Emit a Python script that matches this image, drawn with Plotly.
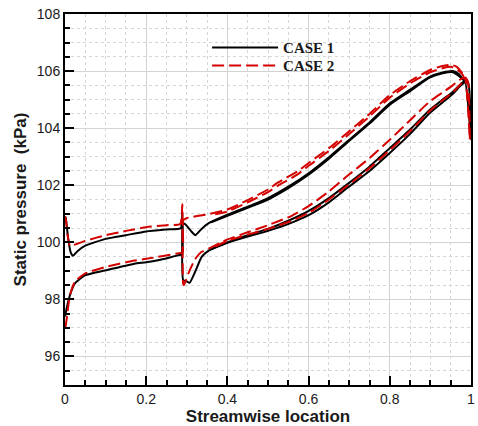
import plotly.graph_objects as go

# Static pressure along the blade surface, one closed path per case/section.
# Path order: upper surface forward part -> shock -> lower surface aft part ->
# trailing edge -> upper surface aft part -> shock -> lower surface forward part.

case1_x = [0.0, 0.002, 0.008, 0.014, 0.02, 0.03, 0.05, 0.1, 0.15, 0.2, 0.25, 0.285, 0.289,
           0.291, 0.3, 0.307, 0.32, 0.337, 0.355, 0.4, 0.45, 0.5, 0.557, 0.6, 0.65, 0.695,
           0.75, 0.8, 0.85, 0.898, 0.93, 0.955, 0.975, 0.985, 1.0, 0.993,
           0.98, 0.97, 0.955, 0.93, 0.898, 0.85, 0.8, 0.75, 0.695, 0.65, 0.6, 0.55, 0.5,
           0.45, 0.4, 0.354, 0.335, 0.321, 0.31, 0.297, 0.291, 0.289,
           0.285, 0.232, 0.2, 0.171, 0.098, 0.049, 0.024, 0.012, 0.004, 0.0]
case1_p = [100.9, 100.85, 100.1, 99.65, 99.53, 99.68, 99.88, 100.12, 100.25, 100.38, 100.45, 100.49, 101.04,
           98.68, 98.63, 98.58, 98.95, 99.5, 99.72, 100.0, 100.25, 100.47, 100.8, 101.1, 101.55, 102.03,
           102.65, 103.3, 103.95, 104.64, 105.0, 105.27, 105.55, 105.65, 103.6, 105.6,
           105.72, 105.9, 106.0, 105.95, 105.8, 105.35, 104.87, 104.2, 103.53, 102.98, 102.42, 101.95, 101.55,
           101.25, 100.97, 100.67, 100.45, 100.25, 100.4, 100.62, 100.68, 99.56,
           99.56, 99.38, 99.3, 99.25, 99.01, 98.84, 98.55, 98.14, 97.68, 97.4]

case2_x = [0.0, 0.002, 0.007, 0.012, 0.02, 0.03, 0.05, 0.1, 0.15, 0.2, 0.25, 0.284, 0.289,
           0.291, 0.293, 0.305, 0.32, 0.335, 0.36, 0.4, 0.45, 0.5, 0.557, 0.6, 0.65, 0.695,
           0.75, 0.8, 0.85, 0.898, 0.93, 0.955, 0.975, 0.985, 0.997, 0.992,
           0.98, 0.965, 0.951, 0.93, 0.898, 0.85, 0.8, 0.75, 0.695, 0.65, 0.6, 0.573, 0.524,
           0.5, 0.45, 0.4, 0.35, 0.3, 0.294, 0.291, 0.29,
           0.285, 0.2, 0.171, 0.098, 0.049, 0.024, 0.012, 0.004, 0.001]
case2_p = [100.9, 100.82, 100.2, 99.88, 99.9, 99.95, 100.05, 100.25, 100.4, 100.53, 100.6, 100.64, 101.33,
           98.55, 98.5, 98.95, 99.4, 99.65, 99.82, 100.1, 100.35, 100.6, 100.92, 101.27, 101.78, 102.32,
           102.95, 103.59, 104.28, 104.93, 105.25, 105.5, 105.72, 105.75, 103.6, 105.65,
           105.9, 106.15, 106.22, 106.18, 106.03, 105.65, 105.16, 104.5, 103.83, 103.3, 102.78, 102.49, 102.09,
           101.85, 101.48, 101.15, 100.98, 100.85, 100.8, 100.78, 99.65,
           99.63, 99.42, 99.36, 99.13, 98.9, 98.61, 98.14, 97.3, 97.0]

# Second section of each case (aft part, where it separates from the first)
case1b_x = [0.36, 0.4, 0.45, 0.5, 0.557, 0.6, 0.65, 0.695, 0.75, 0.8, 0.85, 0.898, 0.93, 0.955, 0.975, 0.985,
            0.976, 0.955, 0.93, 0.898, 0.85, 0.8, 0.75, 0.695, 0.65, 0.6, 0.55, 0.5, 0.45, 0.4, 0.36]
case1b_p = [99.75, 99.98, 100.2, 100.4, 100.68, 100.95, 101.4, 101.9, 102.5, 103.13, 103.8, 104.52, 104.9, 105.2, 105.5, 105.62,
            105.76, 105.96, 105.92, 105.77, 105.3, 104.82, 104.16, 103.49, 102.93, 102.37, 101.9, 101.5, 101.21, 100.93, 100.7]

case2b_x = [0.37, 0.4, 0.45, 0.5, 0.557, 0.6, 0.65, 0.695, 0.75, 0.8, 0.85, 0.898, 0.93, 0.955, 0.975, 0.985,
            0.975, 0.951, 0.93, 0.898, 0.85, 0.8, 0.75, 0.695, 0.65, 0.6, 0.573, 0.524, 0.5, 0.45, 0.4, 0.36]
case2b_p = [99.85, 100.05, 100.27, 100.47, 100.75, 101.03, 101.5, 101.98, 102.6, 103.23, 103.9, 104.6, 104.98, 105.25, 105.55, 105.68,
            105.95, 106.15, 106.1, 105.95, 105.57, 105.07, 104.41, 103.73, 103.2, 102.68, 102.38, 101.98, 101.76, 101.4, 101.08, 100.95]

BLACK = "#000000"
RED = "#d40000"
DASH = "12px,5px"
SMOOTH = 0.5

fig = go.Figure()

fig.add_trace(go.Scatter(x=case1_x, y=case1_p, mode="lines", name="CASE 1", legend="legend",
                         line=dict(color=BLACK, width=2, shape="spline", smoothing=SMOOTH)))
fig.add_trace(go.Scatter(x=case1b_x, y=case1b_p, mode="lines", name="CASE 1", showlegend=False,
                         line=dict(color=BLACK, width=2, shape="spline", smoothing=SMOOTH)))
fig.add_trace(go.Scatter(x=case2_x, y=case2_p, mode="lines", name="CASE 2", legend="legend2",
                         line=dict(color=RED, width=2, dash=DASH, shape="spline", smoothing=SMOOTH)))
fig.add_trace(go.Scatter(x=case2b_x, y=case2b_p, mode="lines", name="CASE 2", showlegend=False,
                         line=dict(color=RED, width=2, dash=DASH, shape="spline", smoothing=SMOOTH)))

axis_common = dict(
    showline=True, linecolor="black", linewidth=2, mirror=True,
    ticks="inside", ticklen=9, tickwidth=2, tickcolor="black",
    showgrid=True, gridcolor="#d3d3d3", gridwidth=1,
    zeroline=False,
    tickfont=dict(family="Liberation Sans, Arial, sans-serif", size=14, color="#1a1a1a"),
)

fig.update_xaxes(
    **axis_common,
    range=[0, 1], dtick=0.2, tick0=0,
    minor=dict(dtick=0.05, ticks="inside", ticklen=5, tickwidth=1.5, tickcolor="black",
               showgrid=True, gridcolor="#d6d6d6", griddash="dot", gridwidth=1),
    title=dict(text="Streamwise location", standoff=4,
               font=dict(family="Liberation Sans, Arial, sans-serif", size=17, color="#1a1a1a", weight="bold")),
)
fig.update_yaxes(
    **axis_common,
    range=[95, 108], dtick=2, tick0=96,
    minor=dict(dtick=0.5, ticks="inside", ticklen=5, tickwidth=1.5, tickcolor="black",
               showgrid=True, gridcolor="#d6d6d6", griddash="dot", gridwidth=1),
    title=dict(text="Static pressure  (kPa)", standoff=6,
               font=dict(family="Liberation Sans, Arial, sans-serif", size=17, color="#1a1a1a", weight="bold")),
)

legend_font = dict(family="Liberation Serif, Times New Roman, serif", size=15, color="#1a1a1a", weight="bold")
legend_common = dict(xanchor="left", yanchor="middle", bgcolor="rgba(0,0,0,0)", borderwidth=0,
                     itemwidth=66, font=legend_font)

fig.update_layout(
    width=478, height=426,
    margin=dict(l=65, r=3, t=14, b=39),
    paper_bgcolor="white", plot_bgcolor="white",
    showlegend=True,
    legend=dict(x=0.35, y=1 - (48 - 14) / 373, **legend_common),
    legend2=dict(x=0.35, y=1 - (66 - 14) / 373, **legend_common),
)

fig.write_html("out.html")
